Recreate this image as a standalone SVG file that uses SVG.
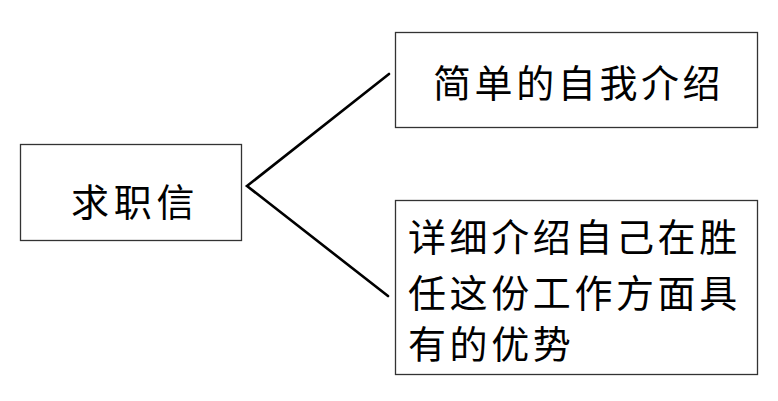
<svg xmlns="http://www.w3.org/2000/svg" width="778" height="401" viewBox="0 0 778 401">
<style>
.box{fill:#fff;stroke:#333;stroke-width:1.3}
.t{font-family:"Noto Sans CJK SC","Noto Sans CJK JP",sans-serif;font-size:38px;fill:#000;letter-spacing:3.6px}
.c{fill:none;stroke:#000;stroke-width:2.6;stroke-linecap:round;stroke-linejoin:miter}
</style>
<rect width="778" height="401" fill="#fff"/>
<g id="connectors">
<polyline class="c" points="389,74 247,186 388,296"/>
</g>
<g id="node-qiuzhixin">
<rect class="box" x="20.5" y="144.5" width="221" height="96"/>
<text class="t" x="71" y="216" style="letter-spacing:4.8px">求职信</text>
</g>
<g id="node-intro">
<rect class="box" x="395.5" y="32.5" width="362" height="95"/>
<text class="t" x="433" y="97">简单的自我介绍</text>
</g>
<g id="node-detail">
<rect class="box" x="395.5" y="200.5" width="362" height="174"/>
<text class="t" x="408" y="251">详细介绍自己在胜</text>
<text class="t" x="408" y="307">任这份工作方面具</text>
<text class="t" x="408" y="358">有的优势</text>
</g>
</svg>
